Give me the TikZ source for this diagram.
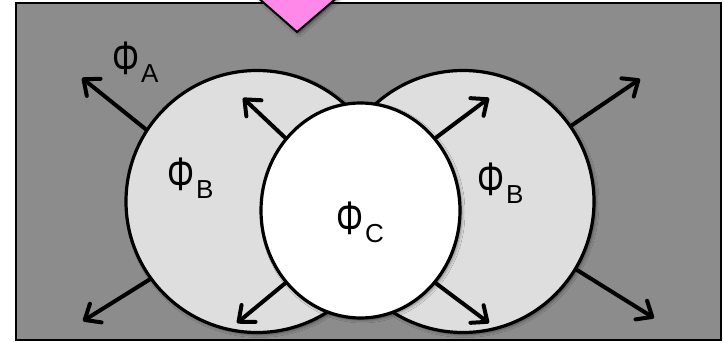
\documentclass[tikz,border=0pt]{standalone}
\usepackage{fontspec}
\usepackage{graphicx}
\setmainfont{Liberation Sans}
\usetikzlibrary{arrows.meta,shadows.blur,shapes.geometric}
\definecolor{bggray}{RGB}{140,140,140}
\definecolor{lightc}{RGB}{222,222,222}
\definecolor{pinkc}{RGB}{255,136,232}
\newcommand\phisub[1]{\scalebox{0.72}[1]{\fontsize{47}{47}\selectfont Φ}\hspace{2pt}\raisebox{-8pt}{\fontsize{26}{26}\selectfont #1}}
\begin{document}
\begin{tikzpicture}[x=1pt,y=-1pt,
  outline/.style={draw=black,line width=3.2pt},
  shad/.style={blur shadow={shadow xshift=2pt,shadow yshift=-2pt,shadow blur radius=3pt,shadow opacity=45}},
  flux/.style={line width=4pt,line cap=round,-{Straight Barb[length=13pt,width=22pt,line cap=round,line join=round]}},
  lbl/.style={inner sep=0pt,anchor=base west}
]
\useasboundingbox (0,0) rectangle (724,342);
\path[draw=black,fill=bggray,line width=2.5pt] (16,3) rectangle (721,340);
\path[fill=pinkc,draw=black,line width=2pt,line join=miter,shad] (256,-4) -- (297,32) -- (339,-4) -- cycle;
\node[circle,minimum size=262pt,fill=lightc,outline,shad] (L) at (257,201.5) {};
\node[circle,minimum size=262pt,fill=lightc,outline,shad] (R) at (463,201.5) {};
\node[ellipse,minimum width=199pt,minimum height=215pt,fill=white,outline,shad] (C) at (360.5,210.5) {};
\coordinate (t1) at (82,78);
\coordinate (t2) at (243,98);
\coordinate (t3) at (489,98);
\coordinate (t4) at (640,79);
\coordinate (t5) at (83,321);
\coordinate (t6) at (237,323);
\coordinate (t7) at (489,323);
\coordinate (t8) at (654,318);
\draw[flux] (L.147) -- (t1);
\draw[flux] (C.136) -- (t2);
\draw[flux] (C.44) -- (t3);
\draw[flux] (R.35.6) -- (t4);
\draw[flux] (L.216.5) -- (t5);
\draw[flux] (C.224) -- (t6);
\draw[flux] (C.316) -- (t7);
\draw[flux] (R.329) -- (t8);
\node[lbl] (la) at (112,75) {\phisub{A}};
\node[lbl] (lb1) at (167,191) {\phisub{B}};
\node[lbl] (lb2) at (477,196) {\phisub{B}};
\node[lbl] (lc) at (336,235) {\phisub{C}};
\end{tikzpicture}
\end{document}
